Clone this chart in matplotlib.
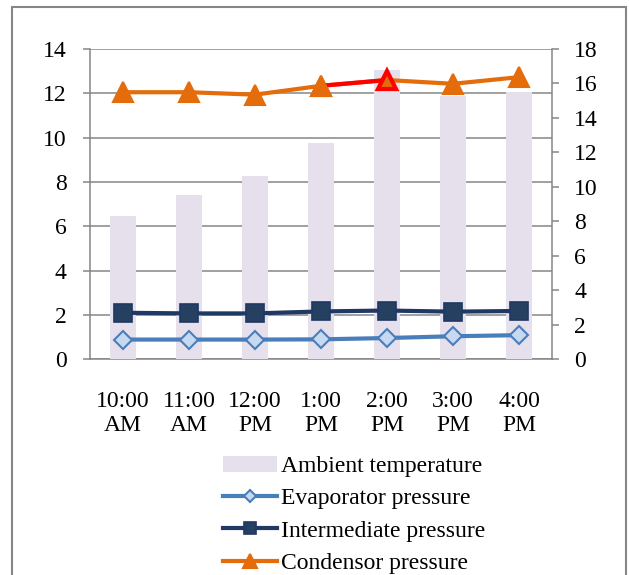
import matplotlib.pyplot as plt
from matplotlib.patches import Rectangle

plt.rcParams['font.family'] = ['Liberation Serif', 'DejaVu Serif']

times = ["10:00\nAM", "11:00\nAM", "12:00\nPM", "1:00\nPM", "2:00\nPM", "3:00\nPM", "4:00\nPM"]
ambient_temp = [8.3, 9.55, 10.65, 12.55, 16.8, 15.3, 15.5]
evaporator = [0.89, 0.89, 0.89, 0.9, 0.96, 1.04, 1.09]
intermediate = [2.1, 2.07, 2.07, 2.16, 2.2, 2.15, 2.18]
condensor = [12.05, 12.05, 11.94, 12.34, 12.6, 12.43, 12.73]
highlight = 4  # 2:00 PM point drawn in red

grid_col = "#868686"
fs = 17

fig = plt.figure(figsize=(6.29, 5.75), dpi=100)
pos = [90 / 629, 1 - 359.3 / 575, 462 / 629, 310.3 / 575]

# base axes: left scale + gridlines
ax = fig.add_axes(pos)
x = list(range(len(times)))
ax.set_xlim(-0.5, len(times) - 0.5)
ax.set_ylim(0, 14)
ax.set_yticks(range(0, 15, 2))
ax.grid(axis="y", color=grid_col, lw=1.1)
ax.set_xticks(x)
ax.set_xticklabels(times, fontsize=fs, linespacing=1.2)
ax.tick_params(axis="x", length=0, pad=23)
ax.tick_params(axis="y", length=5, color=grid_col, width=1.1, pad=12, labelsize=fs)
for s in ["top", "right"]:
    ax.spines[s].set_visible(False)
for s in ["left", "bottom"]:
    ax.spines[s].set_color(grid_col)
    ax.spines[s].set_linewidth(1.1)

# secondary axes: bars
ax2 = ax.twinx()
bars = ax2.bar(x, ambient_temp, width=0.4, color="#E6E0EC", label="Ambient temperature")
ax2.set_ylim(0, 18)
ax2.set_yticks(range(0, 19, 2))
ax2.tick_params(axis="y", length=5, color=grid_col, width=1.1, pad=11, labelsize=fs)
for s in ["top", "left", "bottom"]:
    ax2.spines[s].set_visible(False)
ax2.spines["right"].set_color(grid_col)
ax2.spines["right"].set_linewidth(1.1)

# top axes: pressure lines on the left scale
ax3 = fig.add_axes(pos, sharex=ax, sharey=ax)
ax3.patch.set_visible(False)
ax3.axis("off")

l1, = ax3.plot(x, evaporator, color="#4A7EBB", lw=3, marker="D", ms=9,
               mfc="#C6D9F1", mec="#4A7EBB", mew=1.5, label="Evaporator pressure")
l2, = ax3.plot(x, intermediate, color="#1F3864", lw=3, marker="s", ms=13,
               mfc="#254061", mec="#1F3864", mew=1.2, label="Intermediate pressure")
l3, = ax3.plot(x, condensor, color="#E46C0A", lw=3, marker="^", ms=14,
               mfc="#E46C0A", mec="#E46C0A", mew=1.5, label="Condensor pressure")
ax3.plot(x[highlight - 1:highlight + 1], condensor[highlight - 1:highlight + 1],
         color="#FF0000", lw=3, solid_capstyle="butt", zorder=3)
ax3.plot(x[highlight - 1], condensor[highlight - 1], ls="none", marker="^", ms=14,
         mfc="#E46C0A", mec="#E46C0A", mew=1.5, zorder=4)
ax3.plot(x[highlight], condensor[highlight], ls="none", marker="^", ms=13,
         mfc="#E46C0A", mec="#FF0000", mew=3, zorder=4)

fig.legend([bars, l1, l2, l3],
           ["Ambient temperature", "Evaporator pressure",
            "Intermediate pressure", "Condensor pressure"],
           loc="upper left", bbox_to_anchor=(211 / 629, 1 - 444 / 575),
           frameon=False, fontsize=fs, handlelength=2.3, handletextpad=0.15,
           labelspacing=0.45, borderpad=0, markerscale=0.7)

# outer chart border
fig.patches.append(Rectangle((12 / 629, -0.02), 614 / 629, 1 - 7 / 575 + 0.02,
                             transform=fig.transFigure, fill=False,
                             edgecolor=grid_col, lw=1.5))

fig.savefig("out.png", dpi=100)
